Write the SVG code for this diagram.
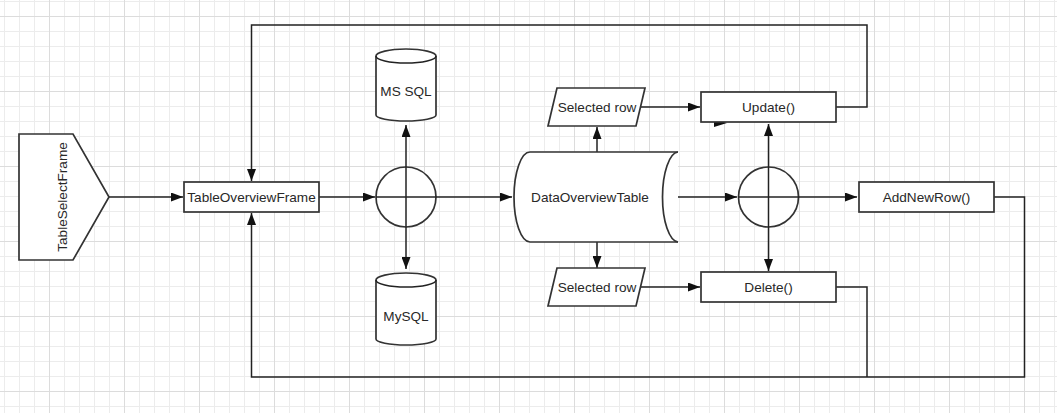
<svg xmlns="http://www.w3.org/2000/svg" width="1057" height="413" viewBox="0 0 1057 413">
<defs>
<pattern id="minor" x="4" y="0" width="15" height="15" patternUnits="userSpaceOnUse">
<path d="M0.5,0 V15 M0,1.5 H15" stroke="#ececec" stroke-width="1" fill="none"/>
</pattern>
<pattern id="major" x="49" y="15" width="75" height="75" patternUnits="userSpaceOnUse">
<path d="M0.5,0 V75 M0,1.5 H75" stroke="#dcdcdc" stroke-width="1" fill="none"/>
</pattern>
<marker id="arr" viewBox="0 0 12 9" refX="12" refY="4.5" markerWidth="12" markerHeight="9" markerUnits="userSpaceOnUse" orient="auto-start-reverse">
<path d="M0,0 L12,4.5 L0,9 z" fill="#111"/>
</marker>
<style>
.shape{fill:#fff;stroke:#333;stroke-width:1.7}
.line{fill:none;stroke:#222;stroke-width:1.5}
.lbl{font-family:"Liberation Sans",Arial,sans-serif;font-size:13.6px;fill:#282828;text-anchor:middle}
</style>
</defs>
<rect width="1057" height="413" fill="#fff"/>
<rect width="1057" height="413" fill="url(#minor)"/>
<rect width="1057" height="413" fill="url(#major)"/>

<g id="connectors">
<path class="line" d="M109,197 H183" marker-end="url(#arr)"/>
<path class="line" d="M319,197 H375" marker-end="url(#arr)"/>
<path class="line" d="M836,107 H867 V25 H251.5 V181" marker-end="url(#arr)"/>
<path class="line" d="M836,287 H867 V377"/>
<path class="line" d="M994,197 H1024.5 V377 H251.5 V213" marker-end="url(#arr)"/>
<path class="line" d="M597,152 V127" marker-end="url(#arr)"/>
<path class="line" d="M597,242 V268" marker-end="url(#arr)"/>
<path class="line" d="M640.5,107 H700" marker-end="url(#arr)"/>
<path class="line" d="M640.5,287 H700" marker-end="url(#arr)"/>
<path class="line" d="M663,197 H737" marker-end="url(#arr)"/>
<polygon points="714,119 727,123 714,127" fill="#111"/>
</g>

<g id="TableSelectFrame">
<path class="shape" d="M19,134 H73 L109,197 L73,260 H19 Z"/>
<text class="lbl" x="62" y="197" dy="0.35em" transform="rotate(-90 62 197)">TableSelectFrame</text>
</g>

<g id="TableOverviewFrame">
<rect class="shape" x="184" y="182" width="135" height="30"/>
<text class="lbl" x="251.5" y="197" dy="0.35em">TableOverviewFrame</text>
</g>

<g id="junction1">
<circle class="shape" cx="406" cy="197" r="30" stroke-width="1.4"/>
<path class="line" d="M376,197 H512" marker-end="url(#arr)"/>
<path class="line" d="M406,125 V269" marker-start="url(#arr)" marker-end="url(#arr)"/>
</g>

<g id="MSSQL">
<path class="shape" d="M376,56 A30,7 0 0 1 436,56 V115 A30,6 0 0 1 376,115 Z"/>
<path class="line" d="M376,56 A30,7 0 0 0 436,56" stroke="#333" stroke-width="1.5"/>
<text class="lbl" x="406" y="91" dy="0.35em">MS SQL</text>
</g>

<g id="MySQL">
<path class="shape" d="M376,280 A30,7 0 0 1 436,280 V339 A30,6 0 0 1 376,339 Z"/>
<path class="line" d="M376,280 A30,7 0 0 0 436,280" stroke="#333" stroke-width="1.5"/>
<text class="lbl" x="406" y="316" dy="0.35em">MySQL</text>
</g>

<g id="DataOverviewTable">
<path class="shape" d="M678,242 H530 A16,45 0 0 1 514,197 A16,45 0 0 1 530,152 H678"/>
<path class="shape" d="M678,152 A16,45 0 0 0 662.5,197 A16,45 0 0 0 678,242" fill="none"/>
<text class="lbl" x="590" y="197" dy="0.35em">DataOverviewTable</text>
</g>

<g id="SelectedRowTop">
<polygon class="shape" points="557,88 645,88 636,126 548,126"/>
<text class="lbl" x="597" y="107" dy="0.35em">Selected row</text>
</g>

<g id="SelectedRowBottom">
<polygon class="shape" points="557,268 645,268 636,306 548,306"/>
<text class="lbl" x="597" y="287" dy="0.35em">Selected row</text>
</g>

<g id="Update">
<rect class="shape" x="701" y="92" width="135" height="30"/>
<text class="lbl" x="768.5" y="107" dy="0.35em">Update()</text>
</g>

<g id="Delete">
<rect class="shape" x="701" y="272" width="135" height="30"/>
<text class="lbl" x="768.5" y="287" dy="0.35em">Delete()</text>
</g>

<g id="junction2">
<circle class="shape" cx="768.5" cy="197" r="30" stroke-width="1.4"/>
<path class="line" d="M738.5,197 H857" marker-end="url(#arr)"/>
<path class="line" d="M768.5,124 V271" marker-start="url(#arr)" marker-end="url(#arr)"/>
</g>

<g id="AddNewRow">
<rect class="shape" x="859" y="182" width="135" height="30"/>
<text class="lbl" x="926.5" y="197" dy="0.35em">AddNewRow()</text>
</g>
</svg>
